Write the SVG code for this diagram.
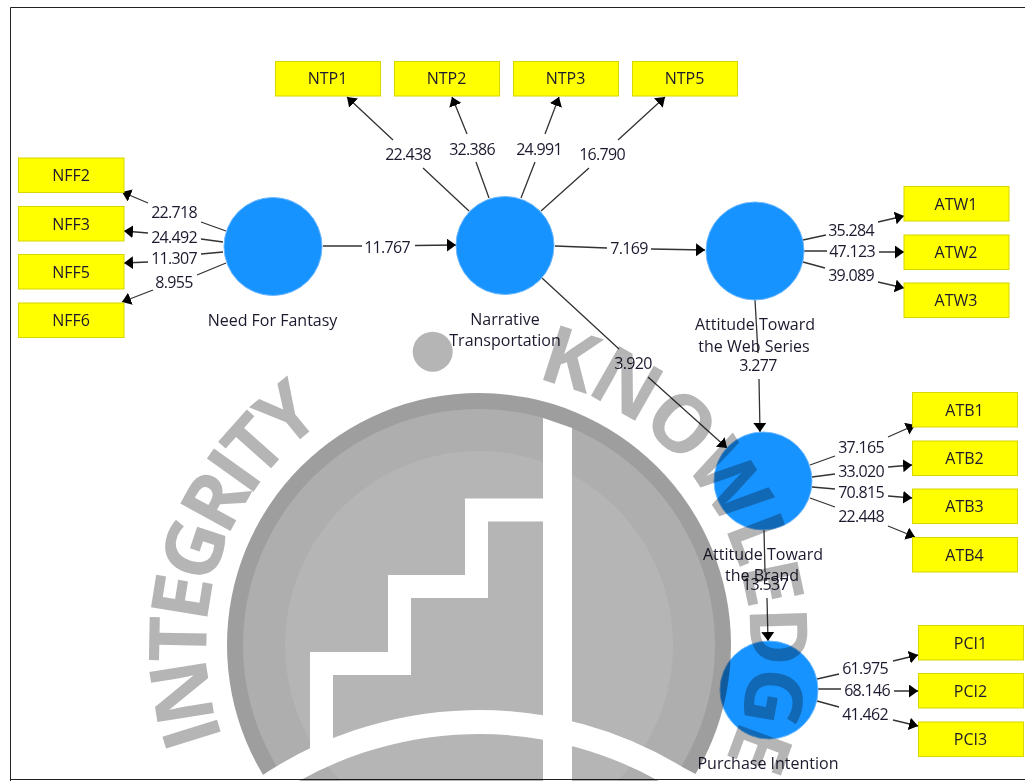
<svg xmlns="http://www.w3.org/2000/svg" width="1025" height="781" viewBox="0 0 1025 781">
<style>
text{font-family:"Open Sans","Noto Sans","Liberation Sans",sans-serif;font-size:16px;fill:#1c1a2e;text-anchor:middle}
#connectors text{letter-spacing:-.7px}
.lv{fill:#1793ff;stroke:#6db8ff;stroke-width:1}
.mv{fill:#ffff00;stroke:#d6d600;stroke-width:1}
.c{fill:none;stroke:#333;stroke-width:1.3;marker-end:url(#ah)}
.f{fill:none;stroke:#222;stroke-width:1}
#watermark{mix-blend-mode:multiply}
#watermark text{font-family:"Open Sans","Noto Sans",sans-serif;font-size:80px;font-weight:700;fill:#b5b5b5;text-anchor:start}
</style>
<defs>
<marker id="ah" markerUnits="userSpaceOnUse" markerWidth="11" markerHeight="14" refX="9" refY="6.500" orient="auto"><path d="M0 0L9 6.500L0 13z" fill="#000"/></marker>
<path id="wm1" d="M223 738A272 272 0 0 1 325 420"/>
<path id="wm2" d="M536 379A272 272 0 0 1 671 837"/>
</defs>
<rect width="1025" height="781" fill="#fff"/>
<path class="f" d="M10.500 781V7.500H1025M10 779.500H1025"/>
<g id="connectors">
<path class="c" d="M226 231L201 222M148 203L122 192"/>
<path class="c" d="M223 242L201 239M148 233L124 231"/>
<path class="c" d="M223 252L201 254M148 262L124 263"/>
<path class="c" d="M226 263L197 275M153 290L122 302"/>
<path class="c" d="M323 246L362 246M415 245.500L456 245"/>
<path class="c" d="M469 211L423 168M393 140L347 97"/>
<path class="c" d="M489 198L476 162M467 134L452 97"/>
<path class="c" d="M521 198L535 162M545 134L559 97"/>
<path class="c" d="M541 211L589 168M618 140L665 97"/>
<path class="c" d="M555 246L607 248M651 249L705 250"/>
<path class="c" d="M542 278L619 349M648 377L727 448"/>
<path class="c" d="M755 300L758 353M759 379L760 432"/>
<path class="c" d="M764 530L765 572M767 598L768 641"/>
<path class="c" d="M803 240L826 235M878 222L904 216"/>
<path class="c" d="M804 251L827 251M879 252L904 252"/>
<path class="c" d="M803 262L825 268M878 282L904 288"/>
<path class="c" d="M810 465L835 456M888 437L915 425"/>
<path class="c" d="M812 477L835 474M888 467L912 465"/>
<path class="c" d="M812 487L835 489M888 496L912 498"/>
<path class="c" d="M810 498L835 507M888 526L915 537"/>
<path class="c" d="M817 679L839 674M893 661L918 655"/>
<path class="c" d="M818 689L841 689M894 691L918 691"/>
<path class="c" d="M817 701L839 707M893 720L918 726"/>
<text x="174" y="218">22.718</text>
<text x="174" y="243">24.492</text>
<text x="174" y="264">11.307</text>
<text x="174" y="288">8.955</text>
<text x="387" y="253">11.767</text>
<text x="408" y="160">22.438</text>
<text x="472" y="155">32.386</text>
<text x="539" y="155">24.991</text>
<text x="602" y="160">16.790</text>
<text x="629" y="254">7.169</text>
<text x="633" y="369">3.920</text>
<text x="758" y="371">3.277</text>
<text x="851" y="236">35.284</text>
<text x="852" y="257">47.123</text>
<text x="851" y="281">39.089</text>
<text x="861" y="453">37.165</text>
<text x="861" y="477">33.020</text>
<text x="861" y="498">70.815</text>
<text x="861" y="522">22.448</text>
<text x="765" y="590">13.537</text>
<text x="865" y="674">61.975</text>
<text x="867" y="696">68.146</text>
<text x="865" y="720">41.462</text>
</g>
<g id="need-for-fantasy"><circle class="lv" cx="273" cy="246.500" r="49"/><text x="272.500" y="326">Need For Fantasy</text></g>
<g id="narrative-transportation"><circle class="lv" cx="505" cy="245.500" r="49"/><text x="505" y="325">Narrative</text><text x="505" y="346">Transportation</text></g>
<g id="attitude-web-series"><circle class="lv" cx="755" cy="251" r="49"/><text x="755" y="330">Attitude Toward</text><text x="754" y="352">the Web Series</text></g>
<g id="attitude-brand"><circle class="lv" cx="763" cy="481" r="49"/><text x="763" y="560">Attitude Toward</text><text x="762" y="581">the Brand</text></g>
<g id="purchase-intention"><circle class="lv" cx="769" cy="690" r="49"/><text x="768" y="769">Purchase Intention</text></g>
<g id="NTP1"><rect class="mv" x="275.500" y="61.500" width="105" height="34.500"/><text x="327.500" y="84">NTP1</text></g>
<g id="NTP2"><rect class="mv" x="394.500" y="61.500" width="105" height="34.500"/><text x="446.500" y="84">NTP2</text></g>
<g id="NTP3"><rect class="mv" x="513.500" y="61.500" width="105" height="34.500"/><text x="565.500" y="84">NTP3</text></g>
<g id="NTP5"><rect class="mv" x="632.500" y="61.500" width="105" height="34.500"/><text x="684.500" y="84">NTP5</text></g>
<g id="NFF2"><rect class="mv" x="18.500" y="158" width="105.500" height="34.500"/><text x="71" y="181">NFF2</text></g>
<g id="NFF3"><rect class="mv" x="18.500" y="206.500" width="105.500" height="34.500"/><text x="71" y="229.500">NFF3</text></g>
<g id="NFF5"><rect class="mv" x="18.500" y="254.500" width="105.500" height="34.500"/><text x="71" y="277.500">NFF5</text></g>
<g id="NFF6"><rect class="mv" x="18.500" y="303" width="105.500" height="34.500"/><text x="71" y="326">NFF6</text></g>
<g id="ATW1"><rect class="mv" x="904" y="186.500" width="105" height="34.500"/><text x="956" y="209.500">ATW1</text></g>
<g id="ATW2"><rect class="mv" x="904" y="235" width="105" height="34.500"/><text x="956" y="257.500">ATW2</text></g>
<g id="ATW3"><rect class="mv" x="904" y="283" width="105" height="34.500"/><text x="956" y="306">ATW3</text></g>
<g id="ATB1"><rect class="mv" x="912.500" y="392.500" width="105" height="34.500"/><text x="964.500" y="415.500">ATB1</text></g>
<g id="ATB2"><rect class="mv" x="912.500" y="441" width="105" height="34.500"/><text x="964.500" y="463.500">ATB2</text></g>
<g id="ATB3"><rect class="mv" x="912.500" y="489" width="105" height="34.500"/><text x="964.500" y="512">ATB3</text></g>
<g id="ATB4"><rect class="mv" x="912.500" y="537.500" width="105" height="34.500"/><text x="964.500" y="560.500">ATB4</text></g>
<g id="PCI1"><rect class="mv" x="918.500" y="625.500" width="105" height="34.500"/><text x="970.500" y="648.500">PCI1</text></g>
<g id="PCI2"><rect class="mv" x="918.500" y="673.500" width="105" height="34.500"/><text x="970.500" y="696.500">PCI2</text></g>
<g id="PCI3"><rect class="mv" x="918.500" y="722" width="105" height="34.500"/><text x="970.500" y="745">PCI3</text></g>
<g id="watermark">
<circle cx="479" cy="645" r="252" fill="#9e9e9e"/>
<circle cx="479" cy="645" r="236" fill="#aeaeae"/>
<circle cx="479" cy="645" r="194" fill="#b5b5b5"/>
<path d="M543 510H476.500V586.500H399.500V663.500H321.500V760" fill="none" stroke="#fff" stroke-width="23"/>
<path d="M543 418L572 428V790H543z" fill="#fff"/>
<path d="M262 790A380 380 0 0 1 679 779L700 790" fill="none" stroke="#fff" stroke-width="24"/>
<circle cx="432.700" cy="351.700" r="20" fill="#b5b5b5"/>
<text textLength="359" lengthAdjust="spacing"><textPath href="#wm1">INTEGRITY</textPath></text>
<text textLength="488" lengthAdjust="spacing"><textPath href="#wm2">KNOWLEDGE</textPath></text>
</g>
</svg>
